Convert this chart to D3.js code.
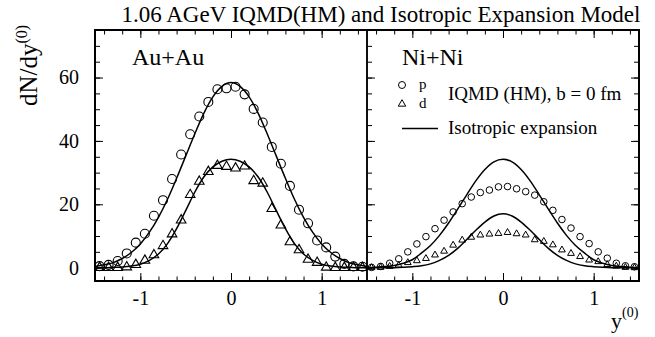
<!DOCTYPE html>
<html>
<head>
<meta charset="utf-8">
<script src="https://cdn.jsdelivr.net/npm/d3@7"></script>
<style>
  html, body { margin: 0; padding: 0; background: #fff; }
  svg { display: block; }
  text { font-family: "Liberation Serif", "Times New Roman", serif; fill: #000; }
</style>
</head>
<body>
<div id="chart"></div>
<script>
// rapidity bins of the IQMD points and grid of the model curves
const rapidity = [-1.45, -1.35, -1.25, -1.15, -1.05, -0.95, -0.85, -0.75, -0.65, -0.55,
  -0.45, -0.35, -0.25, -0.15, -0.05, 0.05, 0.15, 0.25, 0.35, 0.45,
  0.55, 0.65, 0.75, 0.85, 0.95, 1.05, 1.15, 1.25, 1.35, 1.45];
const curveGrid = [-1.5, -1.4, -1.3, -1.2, -1.1, -1.0, -0.9, -0.8, -0.7, -0.6, -0.5,
  -0.4, -0.3, -0.2, -0.1, 0, 0.1, 0.2, 0.3, 0.4, 0.5,
  0.6, 0.7, 0.8, 0.9, 1.0, 1.1, 1.2, 1.3, 1.4, 1.5];

// Au+Au
const auProton = [0.5, 0.9, 2.1, 4.5, 7.9, 10.7, 16.4, 21.3, 28.0, 35.7, 42.1, 47.7, 52.3, 56.3, 56.6,
  57.1, 54.7, 50.1, 45.8, 38.1, 32.8, 25.8, 18.3, 14.0, 8.6, 6.4, 3.5, 1.2, 0.4, 0.3];
const auDeuteron = [0, 0, 0, 0.2, 0.95, 2.3, 4.0, 6.9, 10.6, 15.0, 23.0, 27.2, 30.3, 32.2, 31.9,
  31.4, 32.0, 27.4, 26.6, 18.6, 13.4, 8.1, 5.6, 2.6, 1.6, 0.1, 0, 0, 0, 0];
const auProtonModel = [0.4, 0.9, 1.6, 2.9, 4.8, 7.5, 11.2, 15.9, 21.6, 28.2, 35.2, 42.2, 48.7, 53.9, 57.2,
  58.4, 57.2, 53.9, 48.7, 42.2, 35.2, 28.2, 21.6, 15.9, 11.2, 7.5, 4.8, 2.9, 1.6, 0.9, 0.4];
const auDeuteronModel = [0, 0, 0.1, 0.2, 0.5, 1.1, 2.3, 4.3, 7.6, 12.3, 18.0, 23.8, 28.6, 31.8, 33.6,
  34.2, 33.6, 31.8, 28.6, 23.8, 18.0, 12.3, 7.6, 4.3, 2.3, 1.1, 0.5, 0.2, 0.1, 0, 0];

// Ni+Ni
const niProton = [0.1, 0.4, 1.4, 2.8, 5.0, 7.5, 9.8, 12.3, 15.0, 17.6, 20.2, 22.3, 23.7, 24.5, 25.5,
  25.6, 24.9, 24.0, 22.9, 20.8, 18.1, 15.2, 12.5, 9.8, 7.6, 5.0, 3.0, 1.4, 0.6, 0.3];
const niDeuteron = [0, 0.1, 0.4, 0.8, 1.6, 2.2, 2.9, 4.0, 5.2, 7.1, 8.7, 9.6, 10.3, 10.6, 10.8,
  11.1, 10.7, 10.3, 8.8, 8.3, 7.2, 5.6, 4.5, 3.5, 2.4, 1.9, 1.0, 0.5, 0.1, 0];
const niProtonModel = [0.05, 0.15, 0.35, 0.7, 1.4, 2.5, 4.6, 7.0, 10.2, 14.1, 18.5, 23.0, 27.4, 31.0, 33.4,
  34.2, 33.4, 31.0, 27.4, 23.0, 18.5, 14.1, 10.2, 7.0, 4.6, 2.5, 1.4, 0.7, 0.35, 0.15, 0.05];
const niDeuteronModel = [0, 0, 0, 0, 0.1, 0.3, 0.6, 1.2, 2.3, 3.9, 6.1, 8.9, 11.8, 14.4, 16.3,
  17.0, 16.3, 14.4, 11.8, 8.9, 6.1, 3.9, 2.3, 1.2, 0.6, 0.3, 0.1, 0, 0, 0, 0];

const xMajor = [-1, 0, 1];
const yMajor = [0, 20, 40, 60];

const W = 655, H = 337;
const plotTop = 30, plotBottom = 281;

const svg = d3.select('#chart').append('svg')
  .attr('width', W).attr('height', H);

const y = d3.scaleLinear().domain([-4.2, 75]).range([plotBottom, plotTop]);

const panels = [
  { id: 'au', label: 'Au+Au', x0: 95, x1: 367, p: auProton, d: auDeuteron,
    pm: auProtonModel, dm: auDeuteronModel, r: 4.5, tri: 40, sw: 1.1, leftTicks: true, rightTicks: false },
  { id: 'ni', label: 'Ni+Ni', x0: 367, x1: 639, p: niProton, d: niDeuteron,
    pm: niProtonModel, dm: niDeuteronModel, r: 3.3, tri: 20, sw: 1, leftTicks: true, rightTicks: true }
];

const defs = svg.append('defs');

panels.forEach(pn => {
  const x = d3.scaleLinear().domain([-1.5, 1.5]).range([pn.x0, pn.x1]);
  const g = svg.append('g');

  defs.append('clipPath').attr('id', 'clip-' + pn.id)
    .append('rect').attr('x', pn.x0).attr('y', plotTop)
    .attr('width', pn.x1 - pn.x0).attr('height', plotBottom - plotTop);

  // minor + major ticks, inward on every side
  const xMinor = d3.range(-14, 15, 2).map(v => v / 10);
  const yMinor = d3.range(0, 75, 5);

  g.append('g').attr('transform', `translate(0,${plotBottom})`)
    .call(d3.axisBottom(x).tickValues(xMinor).tickSizeInner(-4.5).tickSizeOuter(0).tickFormat(''));
  g.append('g').attr('transform', `translate(0,${plotBottom})`)
    .call(d3.axisBottom(x).tickValues(xMajor).tickSizeInner(-8).tickSizeOuter(0).tickPadding(10).tickFormat(d3.format('d')));
  g.append('g').attr('transform', `translate(0,${plotTop})`)
    .call(d3.axisTop(x).tickValues(xMinor).tickSizeInner(-4.5).tickSizeOuter(0).tickFormat(''));
  g.append('g').attr('transform', `translate(0,${plotTop})`)
    .call(d3.axisTop(x).tickValues(xMajor).tickSizeInner(-8).tickSizeOuter(0).tickFormat(''));

  if (pn.leftTicks) {
    g.append('g').attr('transform', `translate(${pn.x0},0)`)
      .call(d3.axisLeft(y).tickValues(yMinor).tickSizeInner(-5).tickSizeOuter(0).tickFormat(''));
    g.append('g').attr('transform', `translate(${pn.x0},0)`)
      .call(d3.axisLeft(y).tickValues(yMajor).tickSizeInner(-8).tickSizeOuter(0).tickPadding(16)
        .tickFormat(pn.id === 'au' ? d3.format('d') : ''));
  }
  if (pn.rightTicks) {
    g.append('g').attr('transform', `translate(${pn.x1},0)`)
      .call(d3.axisRight(y).tickValues(yMinor).tickSizeInner(-5).tickSizeOuter(0).tickFormat(''));
    g.append('g').attr('transform', `translate(${pn.x1},0)`)
      .call(d3.axisRight(y).tickValues(yMajor).tickSizeInner(-8).tickSizeOuter(0).tickFormat(''));
  }

  g.selectAll('.domain').remove();
  g.selectAll('.tick line').attr('stroke', '#000').attr('stroke-width', 1);
  g.selectAll('.tick text').style('font-size', '20px')
    .style('font-family', '"Liberation Serif", "Times New Roman", serif')
    .text(function() { return this.textContent.replace('−', '-'); });

  // model curves
  const line = d3.line()
    .x((d, i) => x(curveGrid[i]))
    .y(d => y(d))
    .curve(d3.curveMonotoneX);

  const plot = g.append('g').attr('clip-path', `url(#clip-${pn.id})`);
  [pn.pm, pn.dm].forEach(series => {
    plot.append('path').datum(series)
      .attr('d', line)
      .attr('fill', 'none')
      .attr('stroke', '#000')
      .attr('stroke-width', 1.5);
  });

  // IQMD points
  plot.append('g').selectAll('circle')
    .data(pn.p)
    .join('circle')
    .attr('cx', (d, i) => x(rapidity[i]))
    .attr('cy', d => y(d))
    .attr('r', pn.r)
    .attr('fill', 'none')
    .attr('stroke', '#000')
    .attr('stroke-width', pn.sw);

  const tri = d3.symbol(d3.symbolTriangle, pn.tri);
  plot.append('g').selectAll('path')
    .data(pn.d)
    .join('path')
    .attr('d', tri)
    .attr('transform', (d, i) => `translate(${x(rapidity[i])},${y(d)})`)
    .attr('fill', 'none')
    .attr('stroke', '#000')
    .attr('stroke-width', pn.sw);

  // frame
  g.append('rect')
    .attr('x', pn.x0).attr('y', plotTop)
    .attr('width', pn.x1 - pn.x0).attr('height', plotBottom - plotTop)
    .attr('fill', 'none').attr('stroke', '#000').attr('stroke-width', 1.5);

  g.append('text')
    .attr('x', pn.x0 + (pn.id === 'au' ? 37 : 35))
    .attr('y', 65)
    .style('font-size', '24px')
    .text(pn.label);
});

// thicker outer frame
svg.append('path')
  .attr('d', `M95,${plotTop}H639V${plotBottom}H95Z`)
  .attr('fill', 'none').attr('stroke', '#000').attr('stroke-width', 2);

// legend in Ni+Ni panel
const lg = svg.append('g');
lg.append('circle').attr('cx', 402).attr('cy', 85).attr('r', 3.5)
  .attr('fill', 'none').attr('stroke', '#000').attr('stroke-width', 1);
lg.append('path').attr('d', d3.symbol(d3.symbolTriangle, 24))
  .attr('transform', 'translate(402,104)')
  .attr('fill', 'none').attr('stroke', '#000').attr('stroke-width', 1);
lg.append('text').attr('x', 419).attr('y', 89).style('font-size', '15px').text('p');
lg.append('text').attr('x', 419).attr('y', 108).style('font-size', '15px').text('d');
lg.append('text').attr('x', 448).attr('y', 100).style('font-size', '19px').text('IQMD (HM), b = 0 fm');
lg.append('line').attr('x1', 402).attr('x2', 438).attr('y1', 128.5).attr('y2', 128.5)
  .attr('stroke', '#000').attr('stroke-width', 1.3);
lg.append('text').attr('x', 448).attr('y', 134).style('font-size', '19px').text('Isotropic expansion');

// title
svg.append('text')
  .attr('x', 381).attr('y', 22)
  .attr('text-anchor', 'middle')
  .style('font-size', '23px')
  .text('1.06 AGeV IQMD(HM) and Isotropic Expansion Model');

// axis titles
const yl = svg.append('text')
  .attr('transform', 'translate(37,106) rotate(-90)')
  .style('font-size', '25px');
yl.append('tspan').text('dN/dy');
yl.append('tspan').attr('dy', -10).style('font-size', '16px').text('(0)');

const xl = svg.append('text')
  .attr('x', 611).attr('y', 328)
  .style('font-size', '22px');
xl.append('tspan').text('y');
xl.append('tspan').attr('dy', -11).style('font-size', '14px').text('(0)');
</script>
</body>
</html>
